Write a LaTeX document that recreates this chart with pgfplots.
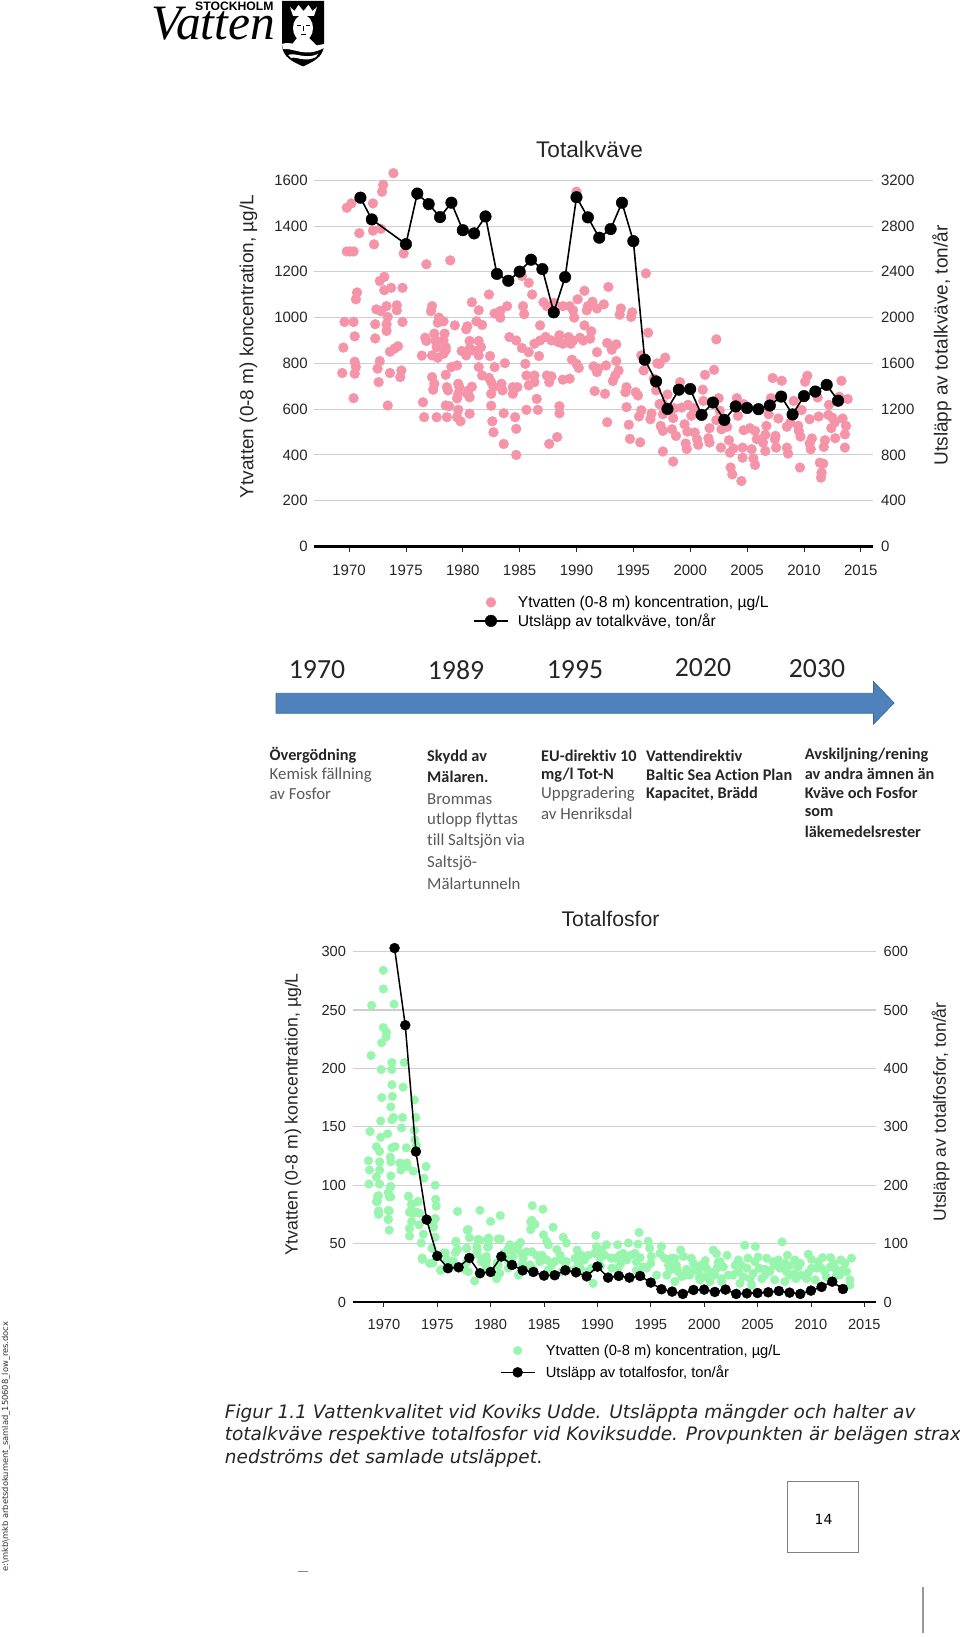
\documentclass[border=0pt]{standalone}
\usepackage{pgfplots}
\pgfplotsset{compat=1.18}
\usepackage{fontspec}
\setmainfont{Liberation Sans}
\newfontfamily\calbf[Ligatures={NoCommon}]{Carlito}
\newfontfamily\dvf{DejaVu Sans}
\newfontfamily\rmff{Liberation Serif}
\definecolor{pinkm}{HTML}{F593A8}
\definecolor{greenm}{HTML}{98F5AE}
\definecolor{gridc}{HTML}{CFCFCF}
\definecolor{txt}{HTML}{262626}
\definecolor{arrowb}{HTML}{4F81BD}
\definecolor{arrowd}{HTML}{3F6C9E}
\newcommand{\fsz}[1]{\fontsize{#1}{#1}\selectfont}
\pgfplotsset{
  base/.style={scale only axis, clip=false, anchor=south west,
    /pgf/number format/assume math mode=true,
    /pgf/number format/1000 sep={},
    tick label style={text=txt},
    legend image code/.code={\draw[mark repeat=2,mark phase=2,##1] plot coordinates {(0pt,0pt) (17pt,0pt) (34pt,0pt)};},
  },
}
\begin{document}
\begin{tikzpicture}
\useasboundingbox (0pt,0pt) rectangle (960pt,1637pt);
\fill[white] (0pt,0pt) rectangle (960pt,1637pt);

% ---------- Totalkväve: concentration
\begin{axis}[base, at={(313.8pt,1090.5pt)}, width=558.7pt, height=366.2pt,
  xmin=1966.9, xmax=2016.03, ymin=0, ymax=1600,
  xtick={1970,1975,...,2015}, ytick={0,200,...,1600},
  axis x line*=bottom, axis y line*=left,
  y axis line style={draw=none}, ytick style={draw=none},
  x axis line style={line width=2.6pt, black, -},
  xtick style={draw=txt, line width=0.8pt},
  major tick length=6pt, xtick align=outside,
  ymajorgrids, grid style={draw=gridc, line width=1.1pt},
  xticklabel style={font=\fsz{15}, yshift=-8.6pt},
  yticklabel style={font=\fsz{15}, xshift=-2.6pt},
]
\addplot[only marks, mark=*, mark size=4.9pt, mark options={fill=pinkm, draw=pinkm, line width=0.4pt}] coordinates {
(1973.9,1631)(1973.0,1580)(1972.9,1550)(1972.1,1499)(1970.2,1499)(1969.8,1480)(1970.9,1369)(1972.1,1380)(1972.8,1388)(1972.2,1320)
(1974.8,1280)(1969.8,1289)(1970.1,1289)(1970.4,1289)(1976.8,1233)(1978.9,1250)(1970.7,1110)(1970.6,1080)(1973.1,1178)(1972.7,1160)
(1973.1,1120)(1973.7,1130)(1974.7,1130)(1972.4,1036)(1972.8,1028)(1973.3,1050)(1974.2,1054)(1974.2,1032)(1973.4,1003)(1973.3,971)
(1973.3,942)(1974.7,981)(1972.3,971)(1969.6,981)(1970.4,981)(1970.5,918)(1972.3,909)(1969.5,869)(1974.3,875)(1974.0,865)
(1973.6,851)(1970.5,807)(1970.6,784)(1970.5,755)(1969.4,758)(1972.7,810)(1972.5,777)(1972.6,718)(1973.6,758)(1974.6,769)
(1974.5,740)(1970.4,648)(1973.4,616)
(1982.3,1101)(1977.3,1050)(1977.2,1028)(1977.9,1000)(1977.8,978)(1978.3,984)(1979.3,966)(1980.4,962)(1980.3,949)(1978.4,930)
(1977.5,930)(1976.7,912)(1976.8,898)(1977.6,900)(1978.3,900)(1977.7,871)(1978.5,871)(1977.3,835)(1976.4,834)(1977.8,825)
(1978.3,842)(1978.5,857)(1979.9,854)(1980.6,898)(1981.4,898)(1981.6,871)(1980.6,864)(1980.3,835)(1980.9,857)(1981.4,835)
(1982.4,832)(1979.5,791)(1979.0,784)(1978.5,750)(1977.3,740)(1977.5,711)(1977.4,685)(1978.6,696)(1978.7,682)(1979.6,711)
(1979.7,696)(1979.6,667)(1979.5,647)(1980.8,698)(1980.5,682)(1980.6,652)(1980.4,667)(1981.4,784)(1981.7,747)(1982.3,737)
(1982.8,784)(1982.5,718)(1982.7,696)(1982.5,667)(1982.5,615)(1976.5,630)(1976.6,565)(1977.7,565)(1978.6,565)(1978.5,616)
(1978.8,613)(1979.6,597)(1979.5,565)(1979.8,547)(1980.6,580)(1980.8,1067)(1981.4,1032)(1981.2,984)(1981.7,968)
(1982.8,1018)(1983.3,1029)(1983.9,1050)(1983.3,1000)(1985.3,1050)(1985.4,1015)(1985.2,1182)(1985.8,1152)(1986.1,1101)(1987.1,1067)
(1987.4,1050)(1986.8,966)(1984.1,915)(1984.7,900)(1985.2,867)(1985.8,849)(1986.3,886)(1986.8,900)(1987.3,915)(1987.8,900)
(1985.5,798)(1986.7,832)(1983.7,801)(1985.6,747)(1986.3,747)(1987.4,747)(1987.8,743)(1987.6,718)(1983.4,711)(1983.5,682)
(1984.4,696)(1984.4,667)(1984.8,696)(1985.8,704)(1986.3,718)(1986.5,645)(1985.6,597)(1986.6,597)(1983.6,582)(1984.6,565)
(1984.7,514)(1982.6,547)(1982.7,499)(1983.6,448)(1987.6,448)(1988.3,478)(1988.5,613)(1988.5,582)(1988.8,729)(1989.4,733)
(1989.6,816)(1990.0,798)(1990.2,780)(1984.7,400)
(1988.5,923)(1988.4,893)(1988.8,886)(1989.3,915)(1989.5,886)(1989.7,900)(1990.3,912)(1990.6,900)(1991.3,940)(1991.2,908)
(1990.7,966)(1988.0,1064)(1988.8,1050)(1989.4,1050)(1989.7,1032)(1989.8,1000)(1990.1,1080)(1990.7,1117)(1990.9,1032)(1991.0,1050)
(1991.4,1069)(1991.8,1040)(1992.4,1058)(1992.8,1134)(1993.9,1040)(1993.8,1013)(1994.9,1023)(1994.8,1003)(1996.1,1193)(1996.3,934)
(1990.0,1550)(1992.7,889)(1993.1,860)(1993.5,883)(1991.8,849)(1991.5,787)(1991.9,777)(1991.8,762)(1992.6,791)(1993.5,810)
(1993.7,769)(1993.4,747)(1993.2,723)(1994.4,696)(1994.3,674)(1995.2,674)(1995.4,660)(1991.6,679)(1992.5,667)(1994.4,609)
(1992.7,543)(1995.7,835)(1995.9,769)(1997.8,825)(1997.3,798)(1996.8,733)(1997.0,682)(1997.6,623)(2002.3,905)(2002.1,772)
(2001.3,750)(2001.1,685)(1999.1,718)(1998.0,664)(1995.7,595)(1995.5,568)(1994.6,532)(1994.7,470)(1995.6,455)
(1997.1,800)(2007.25,736)(2008.05,724)(2010.3,746)(2010.1,720)(2013.3,724)(1997.3,622)(1996.6,581)(1996.5,556)(1997.6,578)
(1998.5,561)(1998.6,604)(1999.25,607)(1999.8,619)(2000.3,604)(2000.1,571)(2001.15,636)(2002.5,648)(2002.6,593)(2002.3,552)
(2002.75,512)(2003.25,523)(2001.7,517)(2004.1,648)(2004.2,571)(2004.7,622)(2007.1,648)(2006.9,578)(2009.1,636)(2009.8,596)
(2007.75,559)(2008.5,523)(2008.8,542)(2010.5,556)(2011.3,568)(2011.2,651)(2012.2,619)(2012.15,575)(2012.5,563)(2012.7,542)
(2012.4,517)(2013.4,559)(2013.7,527)(2013.6,490)(2013.85,644)(2013.1,654)(1999.5,534)(1997.4,527)(1997.6,505)(1998.4,512)
(1998.75,483)(1999.75,502)(2000.4,498)(2000.6,469)(2000.7,444)(2001.6,473)(2001.7,454)(1999.6,450)(1999.7,426)(1997.6,415)
(1998.5,371)(2002.7,432)(2003.4,464)(2003.5,410)(2003.8,428)(2004.6,432)(2004.6,388)(2005.4,425)(2005.55,385)(2005.7,356)
(2003.55,345)(2003.7,315)(2004.5,286)(2004.7,508)(2005.25,517)(2005.7,505)(2005.85,469)(2006.6,488)(2006.7,527)(2006.4,454)
(2006.6,417)(2007.5,483)(2007.45,469)(2007.55,432)(2008.5,432)(2008.6,406)(2009.5,527)(2009.55,505)(2009.7,480)(2010.7,472)
(2010.5,450)(2010.6,425)(2009.65,345)(2011.85,464)(2011.75,435)(2012.75,473)(2013.6,432)(2011.4,366)(2011.7,362)(2011.55,323)(2011.5,301)
};
\end{axis}

% ---------- Totalkväve: discharge
\begin{axis}[base, at={(313.8pt,1090.5pt)}, width=558.7pt, height=366.2pt,
  xmin=1966.9, xmax=2016.03, ymin=0, ymax=3200,
  ytick={0,400,...,3200},
  hide x axis, axis y line*=right,
  y axis line style={draw=none}, ytick style={draw=none},
  yticklabel style={font=\fsz{15}, xshift=5pt},
  legend cell align=left,
  legend style={at={(0.2849,-0.129)}, anchor=north west, draw=none, fill=none,
    font=\fsz{15.7}, inner sep=0pt, row sep=1pt, /tikz/every odd column/.append style={column sep=7pt}},
]
\addlegendimage{only marks, mark=*, mark size=4.9pt, mark options={fill=pinkm, draw=pinkm, line width=0.4pt}}
\addlegendentry{Ytvatten (0-8 m) koncentration, µg/L}
\addplot[black, line width=1.6pt, mark=*, mark size=5.8pt, mark options={fill=black, draw=black, line width=0.4pt}] coordinates {
(1971,3048)(1972,2858)(1975,2642)(1976,3084)(1977,2992)(1978,2878)(1979,3004)(1980,2764)(1981,2736)(1982,2884)
(1983,2382)(1984,2322)(1985,2402)(1986,2506)(1987,2424)(1988,2046)(1989,2354)(1990,3052)(1991,2876)(1992,2698)
(1993,2774)(1994,3004)(1995,2668)(1996,1632)(1997,1442)(1998,1202)(1999,1370)(2000,1376)(2001,1150)(2002,1258)
(2003,1106)(2004,1224)(2005,1210)(2006,1200)(2007,1232)(2008,1310)(2009,1154)(2010,1314)(2011,1354)(2012,1412)(2013,1274)
};
\addlegendentry{Utsläpp av totalkväve, ton/år}
\end{axis}

% ---------- Totalfosfor: concentration
\begin{axis}[base, at={(352.5pt,335pt)}, width=523.2pt, height=350.4pt,
  xmin=1967.06, xmax=2016.07, ymin=0, ymax=300,
  xtick={1970,1975,...,2015}, ytick={0,50,...,300},
  axis x line*=bottom, axis y line*=left,
  y axis line style={draw=none}, ytick style={draw=none},
  x axis line style={line width=1.8pt, black, -},
  xtick style={draw=txt, line width=0.8pt},
  major tick length=5pt, xtick align=outside,
  ymajorgrids, grid style={draw=gridc, line width=1.1pt},
  xticklabel style={font=\fsz{14.6}, yshift=-9pt},
  yticklabel style={font=\fsz{14.6}, xshift=-3pt},
]
\addplot[only marks, mark=*, mark size=4.3pt, mark options={fill=greenm, draw=greenm, line width=0.4pt}] coordinates {
(1969.95,284)(1969.95,268)(1968.85,254)(1970.95,255)(1969.95,235)(1970.25,231)(1970.2,227)(1969.8,222)(1968.8,211)(1970.75,205)
(1971.9,205)(1969.75,199)(1970.75,199)(1970.75,186)(1971.8,184)(1972.85,173)(1969.8,175)(1970.8,176)(1970.65,167)(1973,158)
(1969.7,155)(1970.75,156)(1970.9,158)(1971.75,158)(1971.65,149)(1968.7,146)(1970.35,144)(1969.7,141)(1972.85,147)(1972.9,139)
(1973.05,134)(1969.3,133)(1970.75,132)(1971.05,133)(1972.1,132)(1969.6,129)(1968.55,121)(1969.6,120)(1970.6,124)(1970.65,120)
(1971.5,119)(1972.15,119)(1971.6,113)(1972.2,116)(1972.75,112)(1973.95,116)(1968.65,113)(1969.6,113)(1969.3,107)(1970.65,108)
(1973.75,106)(1968.6,101)(1969.6,101)(1974.8,100)(1970.65,99)(1970.4,93.5)(1970.65,90)(1972.3,90.5)(1969.4,90.5)(1969.4,86)
(1974.85,88)(1973.2,86)(1972.6,84)(1974.9,82)(1972.6,79)(1972.4,77)(1973.05,77)(1969.5,77)(1970.5,78)(1970.4,71)
(1976.9,77.5)(1979,78.5)(1980,69)(1980.9,74)(1983.9,82.5)(1984.9,79.5)(1983.75,68.5)(1984.15,66.5)(1985.85,64)(1977.8,61.5)
(1974.8,71)(1974.6,66)
(1970.6,98.5)(1970.5,90)(1969.5,91)(1969.3,86)(1969.5,78)(1969.5,75)(1970.4,78.5)(1970.4,70.5)(1970.5,61.5)(1972.3,90.5)
(1972.6,83)(1973.2,86)(1972.45,77)(1972.75,76)(1973.35,76)(1972.6,69)(1972.4,63)(1972.4,56.5)(1973.3,66)(1973.7,58)
(1973.5,50.5)(1974.8,55.5)(1974.8,71.5)(1974.65,64)(1978,55)(1976.75,51)(1978.85,53.5)(1979.8,53.5)(1980.7,54)(1977.75,46)
(1978.7,47)(1979.7,47)(1976.7,42.5)(1975.75,42)(1974.5,46)(1973.6,36.5)(1974.3,33)(1975.3,27)(1976.5,35)(1977.75,34)
(1979.15,37)(1979.6,35)(1980.6,31.5)(1977.9,26)(1978.5,18)(1979.6,30)(1978.7,41.5)(1976.2,30)(1980.55,20)
(1983.85,70)(1983.75,62)(1984.95,57.5)(1985.25,52)(1985.4,49)(1986.8,55.5)(1987.1,50.5)(1989.85,57)(1989.9,47.5)(1993.9,59.5)
(1994.75,52)(1994.9,46)(1990.85,49)(1991.9,49)(1992.9,50.5)(1993.8,49.5)(1980.9,54)(1979.8,53)(1979,53)(1979.8,47.5)
(1981.8,49)(1982.8,51)(1982.45,46)(1982.1,44.5)(1983.35,43)(1982.9,41.5)(1984.3,40)(1984.8,40)(1984.6,34.5)(1986.2,45)
(1986.5,40)(1986.65,36)(1985.7,31.5)(1988.1,44.5)(1987.9,37.5)(1988.2,33)(1989.15,40)(1988.8,36)(1990.7,40)(1990.25,37.5)
(1991.65,37.5)(1992.1,40)(1993.1,40)(1992.75,36)(1993.65,34.5)(1996,47.5)(1995.85,41.5)(1995.05,39)(1996.95,37.5)(1997.4,31.5)
(1996.65,31.5)(1996.5,23)(1994.6,29)(1995.55,23)(1991.35,29)(1979.6,36)(1979.15,34.5)(1980.7,31.5)(1981.65,29)(1982.6,23)
(1989.6,16)(1985.4,27.5)(1986.65,26)(1991.95,29)(1989.45,29)(1988.35,30)(1993.65,27)(1983.7,31.7)(1980.85,24.5)(1987.75,27.5)(1989,26)
(1981.2,40)(1981.6,36)(1983,33)(1984,28)(1985,37)(1987,33)(1990.3,31)(1992.2,33)(1994,38)(1995,33)
(1981.2,41.7)(1982.1,38.9)(1983.05,37.4)(1983.85,43)(1985.25,36)(1986,34.6)(1987.1,34.6)(1988.5,40)(1989.75,41.7)(1990.4,44.6)
(1991.3,37.4)(1992.4,41.7)(1993.5,41.7)(1994.3,30)(1996.3,37.4)(1997.25,37.4)(1981.65,44.6)(1982.9,31.7)(1983.85,27.4)
(1977.9,62)(1978.8,53.4)(1979.8,54.9)(1977.75,46)(1978.75,44.9)(1979.6,39)(1976.9,44.9)(1976.75,52)(1975.6,42)(1975.9,36)
(1974.6,33.4)(1973.6,37.7)(1975.35,27.7)(1977.6,27.7)(1980.6,33.4)(1981.6,44.9)(1982.6,49)
(2003.8,48.5)(2004.8,47.5)(2007.3,51.5)(1997.8,44.5)(1998.05,39)(1996.95,34.5)(2000.85,44.5)(2001.15,41.5)(2002.15,40)(1998.8,37.5)
(1999,33)(2000.1,35.5)(2001.3,34)(2004.1,37.5)(2005.05,38.5)(2005.85,37.5)(2006.95,36)(2007.8,40)(2009.75,41)(2010.05,36.5)
(2011.1,38)(2011.85,38)(2012.8,36)(2013.8,37.5)(2004.75,34.5)(2002.9,31.5)(2003.5,31.5)(2001.8,30)(2000.2,29)(2006.6,31.5)
(2008,31)(2009,33)(2008.8,30)(2010.55,29)(2007.7,26)(2009.75,25)(2012.25,29)(2013.2,33)(1997.4,29)(1998.35,28)
(1996.8,27.5)(1997.55,26)(1998.65,23)(1999.55,21.5)(2000.7,25)(2001.65,20)(2002.7,23)(2003.65,21.5)(2004.6,24.5)(2005.7,23)
(2006.6,19)(2007.55,17.5)(2008.6,20)(2009.6,20)(2010.4,19)(2011.3,26)(2011.45,21.5)(2012.7,23)(2013.65,19)(2013,27.5)
(1997.25,17.5)(1999.6,19)(2000.55,17.5)(2001.65,17.5)(2003.35,16)(2004.45,14.5)(2005.7,28)(2013.65,14.5)(2008.4,24)(2006,27)
(1997.1,28.9)(1997.9,21.7)(1998.2,23)(1999.1,27.4)(1999.75,31.7)(2000.1,21.7)(2001,23)(2001.2,29)(2002.25,23)(2003.2,26)
(2004,29)(2004.3,20)(2005.15,29)(2005.4,20)(2006.15,26)(2007.1,29)(2007.55,33)(2008,23)(2009.1,23)(2010.05,29)
(2011,29)(2011.8,30)(2012.4,23)(2013.35,26)(1999.45,26)(2001.5,34.5)(2003.2,36)(2006.45,34.5)(2008.5,36)(2010.7,34.5)(2012.1,33)
};
\end{axis}

% ---------- Totalfosfor: discharge
\begin{axis}[base, at={(352.5pt,335pt)}, width=523.2pt, height=350.4pt,
  xmin=1967.06, xmax=2016.07, ymin=0, ymax=600,
  ytick={0,100,...,600},
  hide x axis, axis y line*=right,
  y axis line style={draw=none}, ytick style={draw=none},
  yticklabel style={font=\fsz{14.6}, xshift=4.5pt},
  legend cell align=left,
  legend style={at={(0.2813,-0.115)}, anchor=north west, draw=none, fill=none,
    font=\fsz{14.7}, inner sep=0pt, row sep=5pt, /tikz/every odd column/.append style={column sep=8.5pt}},
]
\addlegendimage{only marks, mark=*, mark size=4.3pt, mark options={fill=greenm, draw=greenm, line width=0.4pt}}
\addlegendentry{Ytvatten (0-8 m) koncentration, µg/L}
\addplot[black, line width=1.5pt, mark=*, mark size=5pt, mark options={fill=black, draw=black, line width=0.4pt}] coordinates {
(1971,606)(1972,474)(1973,257.6)(1974,141)(1975,78.8)(1976,57.8)(1977,59.4)(1978,75.4)(1979,49.2)(1980,51.4)
(1981,77.8)(1982,63.4)(1983,54.2)(1984,51.4)(1985,45.2)(1986,45.8)(1987,54.2)(1988,50.8)(1989,44)(1990,60.6)
(1991,41.8)(1992,44.6)(1993,41.8)(1994,44.6)(1995,33.2)(1996,21.8)(1997,17.8)(1998,13.8)(1999,20.6)(2000,21.2)
(2001,17.2)(2002,21.2)(2003,13.8)(2004,14.8)(2005,15.4)(2006,16.6)(2007,18.8)(2008,16)(2009,13.8)(2010,19.4)
(2011,25.8)(2012,34.8)(2013,22.2)
};
\addlegendentry{Utsläpp av totalfosfor, ton/år}
\end{axis}

% ---------- page furniture, in reference pixels
\begin{scope}[x=1pt,y=-1pt,shift={(0pt,1637pt)}]
\node[font=\fsz{22.6},text=txt] at (589.5,149) {Totalkväve};
\node[font=\fsz{19},text=txt,rotate=90] at (248.5,346.5) {Ytvatten (0-8 m) koncentration, µg/L};
\node[font=\fsz{19},text=txt,rotate=90] at (942,345.5) {Utsläpp av totalkväve, ton/år};
\node[font=\fsz{21.2},text=txt] at (610.5,919) {Totalfosfor};
\node[font=\fsz{17.7},text=txt,rotate=90] at (293,1114.5) {Ytvatten (0-8 m) koncentration, µg/L};
\node[font=\fsz{17.6},text=txt,rotate=90] at (940.5,1112) {Utsläpp av totalfosfor, ton/år};

% arrow
\fill[arrowb,draw=arrowd,line width=0.8pt] (276,693.3)--(873.6,693.3)--(873.6,681.7)--(894,703)--(873.6,724)--(873.6,713.3)--(276,713.3)--cycle;
\foreach \x/\y/\t in {317/670/1970,456/670/1989,575/670/1995,703/668/2020,817/669/2030}
  \node[font=\calbf\fsz{27.7},text=black!85] at (\x,\y) {\t};

% timeline text
\newcommand{\tlb}[3]{\node[anchor=west,inner sep=0pt,font=\calbf\bfseries\fsz{16.3},text=black!85] at (#1,#2) {#3};}
\newcommand{\tlr}[3]{\node[anchor=west,inner sep=0pt,font=\calbf\fsz{16.8},text=black!65] at (#1,#2) {#3};}
\tlb{269.5}{755.7}{Övergödning}
\tlr{269.5}{775}{Kemisk fällning}
\tlr{269.5}{794}{av Fosfor}
\tlb{427}{756.7}{Skydd av}
\tlb{427}{776.7}{Mälaren.}
\tlr{427}{799}{Brommas}
\tlr{427}{820}{utlopp  flyttas}
\tlr{427}{841}{till Saltsjön via}
\tlr{427}{862.7}{Saltsjö-}
\tlr{427}{883.3}{Mälartunneln}
\tlb{541}{755.7}{EU-direktiv 10}
\tlb{541}{775}{mg/l Tot-N}
\tlr{541}{794.3}{Uppgradering}
\tlr{541}{814}{av Henriksdal}
\tlb{646}{755.7}{Vattendirektiv}
\tlb{646}{775}{Baltic Sea Action Plan}
\tlb{646}{794}{Kapacitet, Brädd}
\tlb{804.7}{755}{Avskiljning/rening}
\tlb{804.7}{774.3}{av andra ämnen än}
\tlb{804.7}{793.3}{Kväve och Fosfor}
\tlb{804.7}{812.7}{som}
\tlb{804.7}{831.7}{läkemedelsrester}

% caption
\newcommand{\capl}[2]{\node[anchor=west,inner sep=0pt,font=\dvf\itshape\fsz{18.5},text=black!85] at (224.7,#1) {#2};}
\capl{1413.3}{Figur 1.1 Vattenkvalitet vid Koviks Udde. Utsläppta mängder och halter av}
\capl{1435.7}{totalkväve respektive totalfosfor vid Koviksudde. Provpunkten är belägen strax}
\capl{1458.3}{nedströms det samlade utsläppet.}

% page number box
\draw[draw=black!50,line width=1.5pt,fill=white] (787.5,1481.7) rectangle (858.6,1552.7);
\node[font=\dvf\fsz{14},text=black] at (823.6,1519) {14};

% margin marks
\fill[black!45] (298,1571) rectangle (308,1572.5);
\fill[black!40] (922,1586.7) rectangle (923.6,1633);
\node[rotate=90,anchor=west,inner sep=0pt,font=\dvf\fsz{8.35},text=black!80] at (6,1571.7) {e:\textbackslash mkb\textbackslash mkb arbetsdokument\_samlad\_150608\_low\_res.docx};

% logo
\node[anchor=base west,inner sep=0pt,font=\rmff\itshape\fsz{49.5}] at (151,40) {Vatten};
\node[anchor=west,inner sep=0pt,font=\bfseries\fsz{12.2}] at (195,6) {STOCKHOLM};
\fill[black] (282,1)--(324,1)--(324,44) .. controls (324,58) and (312,62) .. (303,66.5) .. controls (294,62) and (282,58) .. (282,44)--cycle;
% crown
\fill[white] (290,7)--(294.5,11)--(298.5,5)--(303.5,11)--(308.5,5)--(312.5,11)--(317,7)--(314,16)--(293,16)--cycle;
% head, neck, shoulders
\fill[white] (303,28) ellipse (10 and 13);
\fill[white] (297,38)--(309,38)--(318,47)--(290,47)--cycle;
\fill[black] (296.5,25) rectangle (300.5,26.2);
\fill[black] (305.5,25) rectangle (309.5,26.2);
\fill[black] (302.6,26) rectangle (303.6,31);
\fill[black] (300.5,34) rectangle (306,35);
% river
\fill[white] (282,44) .. controls (292,40) and (300,50) .. (324,44) -- (324,48) .. controls (305,58) and (295,48) .. (283,49)--cycle;
\fill[white] (288,55) .. controls (296,52) and (305,60) .. (318,54) -- (316,57) .. controls (305,63) and (296,56) .. (291,58)--cycle;
\end{scope}
\end{tikzpicture}
\end{document}
